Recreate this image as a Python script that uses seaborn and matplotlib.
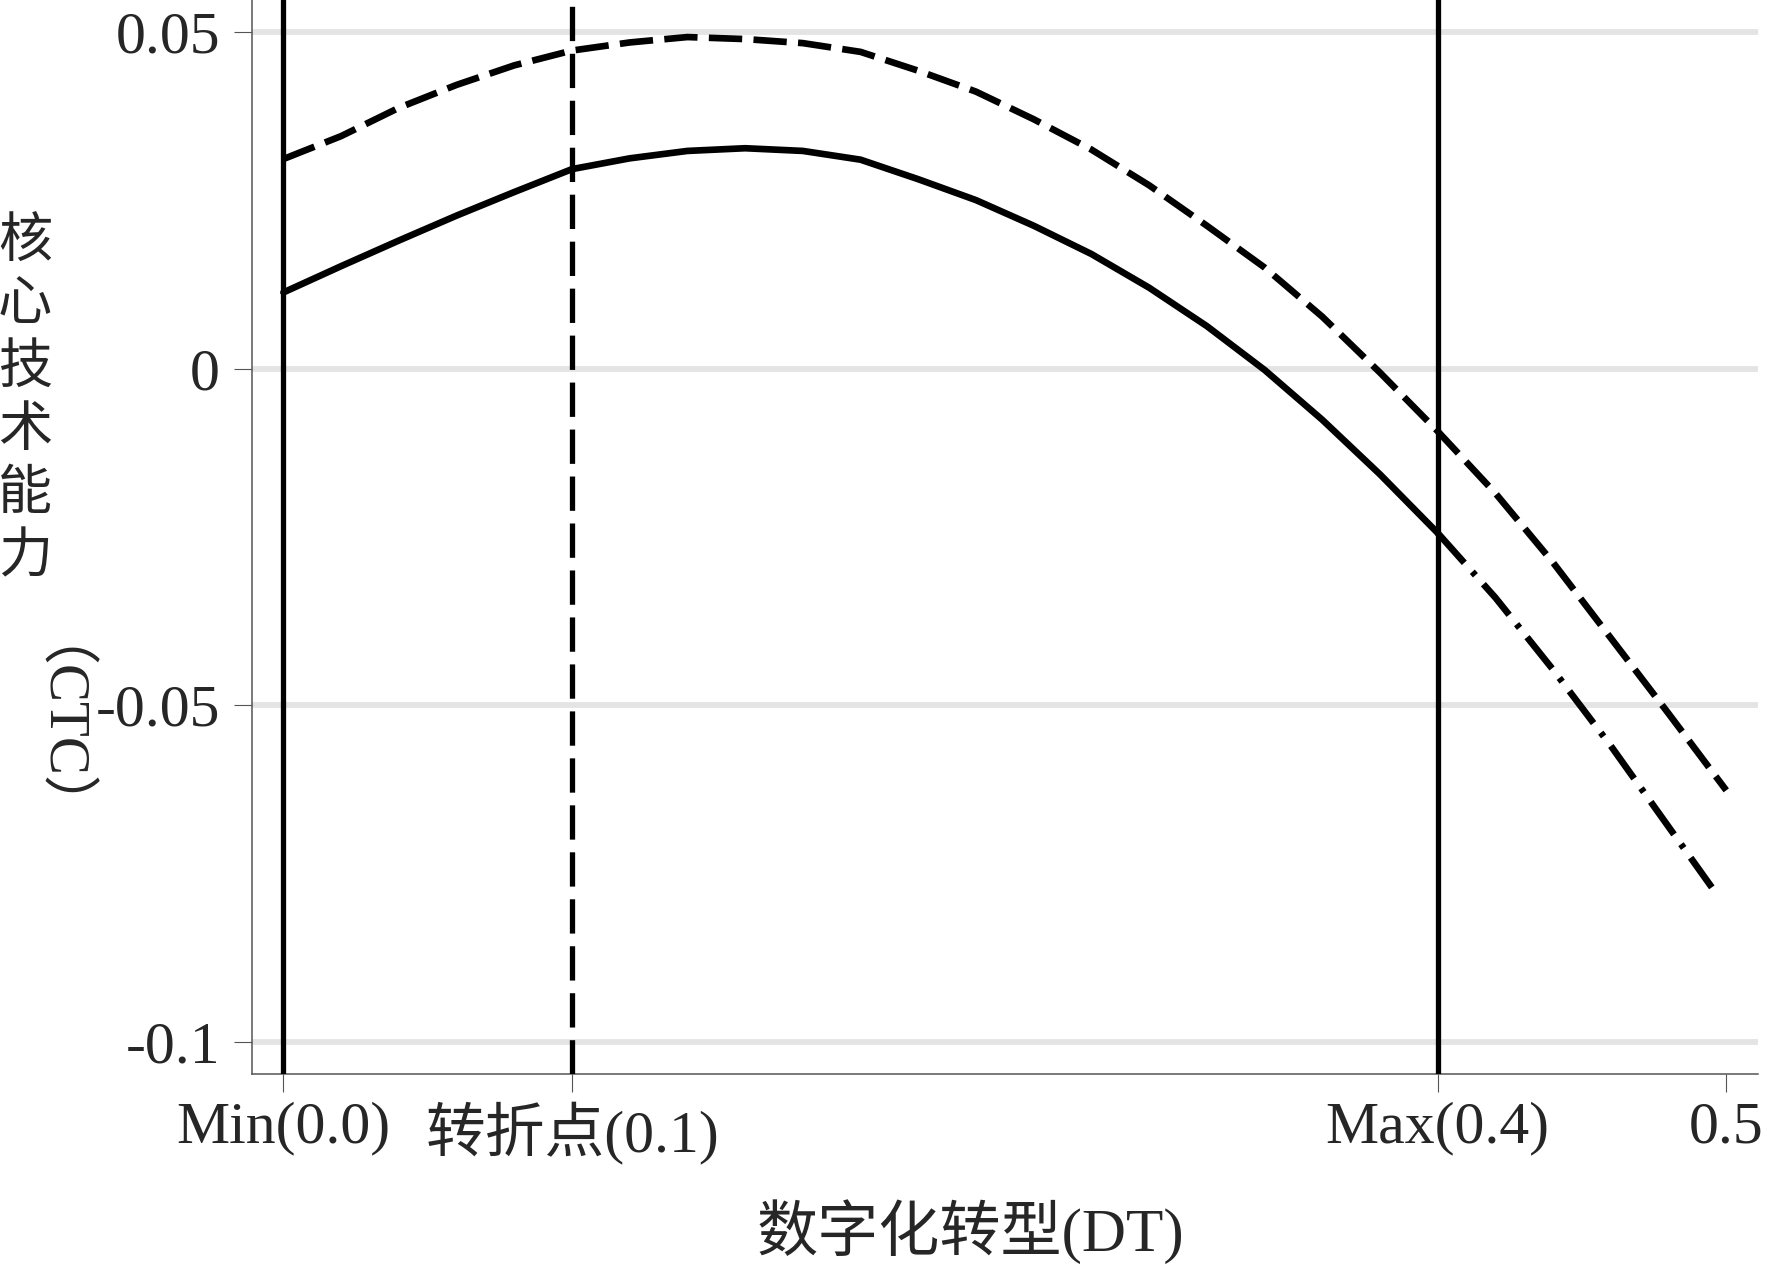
import matplotlib
matplotlib.use('Agg')
import matplotlib.pyplot as plt
import numpy as np
import pandas as pd
import seaborn as sns

# fitted curve (solid) within the sample range
dt_fit = [0.00, 0.02, 0.04, 0.06, 0.08, 0.10, 0.12, 0.14, 0.16, 0.18, 0.20,
          0.22, 0.24, 0.26, 0.28, 0.30, 0.32, 0.34, 0.36, 0.38, 0.40]
ctc_fit = [0.0113, 0.0152, 0.0190, 0.0227, 0.0262, 0.0296, 0.0312, 0.0323, 0.0327, 0.0323, 0.0310,
           0.0281, 0.0250, 0.0212, 0.0170, 0.0120, 0.0063, -0.0002, -0.0076, -0.0157, -0.0244]
# extrapolated part (dash-dot)
dt_ext = [0.40, 0.42, 0.44, 0.46, 0.48, 0.495]
ctc_ext = [-0.0244, -0.0340, -0.0447, -0.0560, -0.0680, -0.0770]
# upper curve (dashed)
dt_up = [0.00, 0.02, 0.04, 0.06, 0.08, 0.10, 0.12, 0.14, 0.16, 0.18, 0.20, 0.22, 0.24,
         0.26, 0.28, 0.30, 0.32, 0.34, 0.36, 0.38, 0.40, 0.42, 0.44, 0.46, 0.48, 0.50]
ctc_up = [0.0311, 0.0345, 0.0387, 0.0421, 0.0450, 0.0472, 0.0484, 0.0492, 0.0489, 0.0483, 0.0470, 0.0442, 0.0411,
          0.0370, 0.0325, 0.0272, 0.0212, 0.0150, 0.0077, -0.0006, -0.0093, -0.0185, -0.0288, -0.0400, -0.0512, -0.0626]

vline_solid = [0.0, 0.4]
vline_dash = [0.1]
xtick_pos = [0.0, 0.1, 0.4, 0.5]
xtick_labels = ['Min(0.0)', '转折点(0.1)', 'Max(0.4)', '0.5']
ytick_pos = [-0.1, -0.05, 0, 0.05]
ytick_labels = ['-0.1', '-0.05', '0', '0.05']

sns.set_style("white")
plt.rcParams['font.family'] = ['Liberation Serif', 'Noto Sans CJK SC']

fit_df = pd.DataFrame({'DT': dt_fit, 'CTC': ctc_fit})
ext_df = pd.DataFrame({'DT': dt_ext, 'CTC': ctc_ext})
up_df = pd.DataFrame({'DT': dt_up, 'CTC': ctc_up})

fig = plt.figure(figsize=(17.77, 12.64), dpi=100)
ax = fig.add_axes([0.1418, 0.1503, 0.8475, 0.8497])

ax.grid(axis='y', color='#e4e4e4', linewidth=4.2, zorder=0)
ax.grid(axis='x', visible=False)

sns.lineplot(data=up_df, x='DT', y='CTC', color='black', linewidth=4.8,
             linestyle=(0, (5, 1.7)), ax=ax)
sns.lineplot(data=fit_df, x='DT', y='CTC', color='black', linewidth=4.8, ax=ax)
sns.lineplot(data=ext_df, x='DT', y='CTC', color='black', linewidth=4.8,
             linestyle=(0, (6, 1.8, 0.7, 1.8)), ax=ax)

for v in vline_solid:
    ax.axvline(v, color='black', linewidth=3.8, zorder=3)
for v in vline_dash:
    ax.axvline(v, color='black', linewidth=3.8, linestyle=(0, (6.5, 2.4)), zorder=3)

ax.set_xlim(-0.0109, 0.511)
ax.set_ylim(-0.1047, 0.0547)
ax.set_xticks(xtick_pos)
ax.set_xticklabels(xtick_labels)
ax.set_yticks(ytick_pos)
ax.set_yticklabels(ytick_labels)
ax.set_xlabel('')
ax.set_ylabel('')

ax.tick_params(axis='x', bottom=True, direction='out', length=13, width=0.8,
               color='#555555', pad=7, labelsize=43)
ax.tick_params(axis='y', left=True, direction='out', length=13, width=0.8,
               color='#555555', pad=10, labelsize=43)
for s in ['top', 'right']:
    ax.spines[s].set_visible(False)
for s in ['left', 'bottom']:
    ax.spines[s].set_color('#555555')
    ax.spines[s].set_linewidth(1.1)

# x axis title
fig.text(970 / 1777, 1 - 1232 / 1264, '数字化转型(DT)', ha='center', va='center', fontsize=44)

# y axis title, stacked characters
for i, ch in enumerate('核心技术能力'):
    fig.text(25 / 1777, 1 - (244 + i * 63) / 1264, ch, ha='center', va='center', fontsize=39)
fig.text(25 / 1777, 1 - 758 / 1264, '（CTC）', ha='center', va='center', fontsize=41, rotation=-90)

plt.savefig("out.png", dpi=100)
